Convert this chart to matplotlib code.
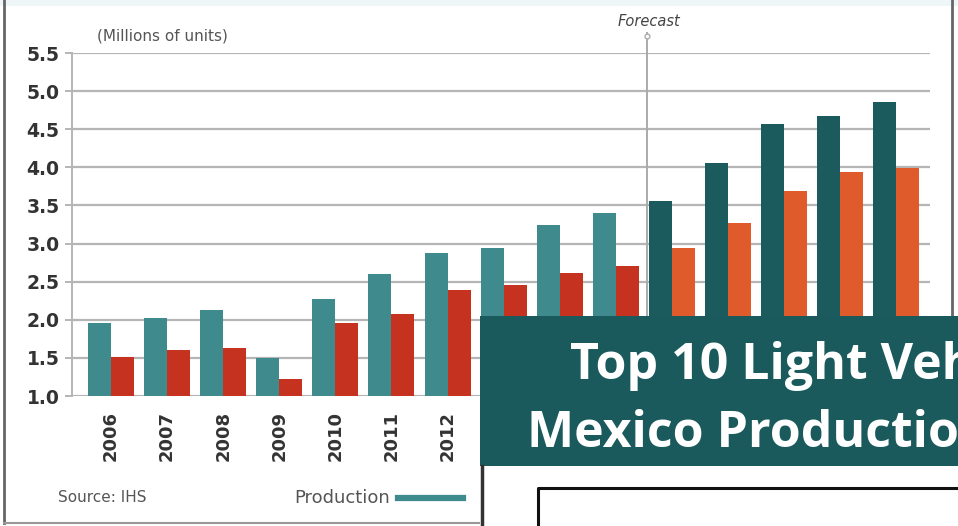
import matplotlib
matplotlib.use("Agg")
import matplotlib.pyplot as plt
from matplotlib.patches import Rectangle
from matplotlib.lines import Line2D
import numpy as np

years = ["2006", "2007", "2008", "2009", "2010", "2011", "2012", "2013",
         "2014", "2015", "2016", "2017", "2018", "2019", "2020"]
production = [1.96, 2.02, 2.13, 1.50, 2.27, 2.60, 2.88, 2.94,
              3.24, 3.40, 3.56, 4.06, 4.57, 4.67, 4.86]
exports = [1.51, 1.61, 1.63, 1.22, 1.96, 2.08, 2.39, 2.46,
           2.61, 2.71, 2.94, 3.27, 3.69, 3.94, 3.99]
forecast_start = "2016"
yticks = [1.0, 1.5, 2.0, 2.5, 3.0, 3.5, 4.0, 4.5, 5.0, 5.5]

W, H = 958, 526
fig = plt.figure(figsize=(W / 100, H / 100), dpi=100)
fig.patch.set_facecolor("white")

def fx(px):
    return px / W

def fy(py):
    return 1 - py / H

# axes placement (pixel-based)
ax_l, ax_r, ax_t, ax_b = 72, 930, 53, 396
ax = fig.add_axes([fx(ax_l), fy(ax_b), (ax_r - ax_l) / W, (ax_b - ax_t) / H])

teal_hist = "#3e8a8d"
red_hist = "#c5321f"
teal_fc = "#1c5b5d"
orange_fc = "#df5b2b"

n = len(years)
x = np.arange(n)
fc_idx = years.index(forecast_start)
bw = 0.41
c_prod = [teal_hist if i < fc_idx else teal_fc for i in range(n)]
c_exp = [red_hist if i < fc_idx else orange_fc for i in range(n)]
ax.bar(x - bw / 2, np.array(production) - 1.0, bw, bottom=1.0, color=c_prod, zorder=3)
ax.bar(x + bw / 2, np.array(exports) - 1.0, bw, bottom=1.0, color=c_exp, zorder=3)

ax.set_ylim(1.0, 5.5)
ax.set_xlim(-0.695, 14.6)
ax.set_yticks(yticks)
ax.set_yticklabels([f"{v:.1f}" for v in yticks], fontweight="bold", fontsize=13.5,
                   color="#333333", family="DejaVu Sans")
ax.yaxis.grid(True, color="#b5b5b5", linewidth=1.6, zorder=0)
ax.tick_params(axis="y", length=5, width=1.4, color="#b5b5b5", pad=4)
ax.set_xticks(x)
xlabels = ax.set_xticklabels(years, rotation=90, fontweight="bold", fontsize=13,
                             color="#333333", va="top")
ax.tick_params(axis="x", length=0, pad=11)
# year labels hidden behind the overlapping panel in the reference
for i, lab in enumerate(xlabels):
    if i > 6:
        lab.set_visible(False)
for s in ["top", "right", "bottom"]:
    ax.spines[s].set_visible(False)
ax.spines["left"].set_color("#b5b5b5")
ax.spines["left"].set_linewidth(1.4)
ax.set_axisbelow(True)

# forecast line
xf = fc_idx - 0.45
ax.plot([xf, xf], [1.0, 5.76], color="#aaaaaa", linewidth=1.4, clip_on=False, zorder=2)
ax.plot([xf], [5.72], marker="o", markersize=3.5, markerfacecolor="white",
        markeredgecolor="#aaaaaa", clip_on=False, zorder=2)
fig.text(fx(649), fy(21), "Forecast", ha="center", va="center", fontsize=10.5,
         style="italic", color="#444444")

# header / footer texts
fig.text(fx(97), fy(36), "(Millions of units)", fontsize=11, color="#555555",
         ha="left", va="center")
fig.text(fx(58), fy(497), "Source: IHS", fontsize=11, color="#555555",
         ha="left", va="center")
fig.text(fx(390), fy(498), "Production", fontsize=13, color="#555555",
         ha="right", va="center")
fig.add_artist(Line2D([fx(398), fx(463)], [fy(498), fy(498)], color=teal_hist,
                      linewidth=4.5, transform=fig.transFigure))

# outer frame
fig.add_artist(Rectangle((0, fy(6)), 1, 6 / H, transform=fig.transFigure,
                         facecolor="#eef6f8", edgecolor="none", zorder=0))
fig.add_artist(Line2D([fx(4), fx(4)], [fy(0), fy(523)], color="#666666",
                      linewidth=2, transform=fig.transFigure))
fig.add_artist(Line2D([fx(952), fx(952)], [fy(0), fy(523)], color="#666666",
                      linewidth=2, transform=fig.transFigure))
fig.add_artist(Line2D([fx(4), fx(952)], [fy(523), fy(523)], color="#999999",
                      linewidth=1.5, transform=fig.transFigure))

# overlapping panel
fig.add_artist(Rectangle((fx(480), fy(526)), 1 - fx(480), (526 - 316) / H,
                         transform=fig.transFigure, facecolor="white",
                         edgecolor="none", zorder=10))
fig.add_artist(Rectangle((fx(480), fy(466)), 1 - fx(480), (466 - 316) / H,
                         transform=fig.transFigure, facecolor="#1b5a5c",
                         edgecolor="none", zorder=11))
fig.add_artist(Line2D([fx(481.5), fx(481.5)], [fy(466), fy(526)], color="#333333",
                      linewidth=2.5, transform=fig.transFigure, zorder=12))
fig.add_artist(Line2D([fx(538), fx(538), 1.0], [0, fy(488), fy(488)], color="#111111",
                      linewidth=2.2, transform=fig.transFigure, zorder=12))
fig.text(fx(570), fy(379), "Top 10 Light Vehicle", fontsize=36,
         fontweight="bold", color="white", family="Open Sans",
         ha="left", va="baseline", zorder=13)
fig.text(fx(527), fy(447), "Mexico Production", fontsize=36,
         fontweight="bold", color="white", family="Open Sans",
         ha="left", va="baseline", zorder=13)

fig.savefig("out.png", dpi=100)
